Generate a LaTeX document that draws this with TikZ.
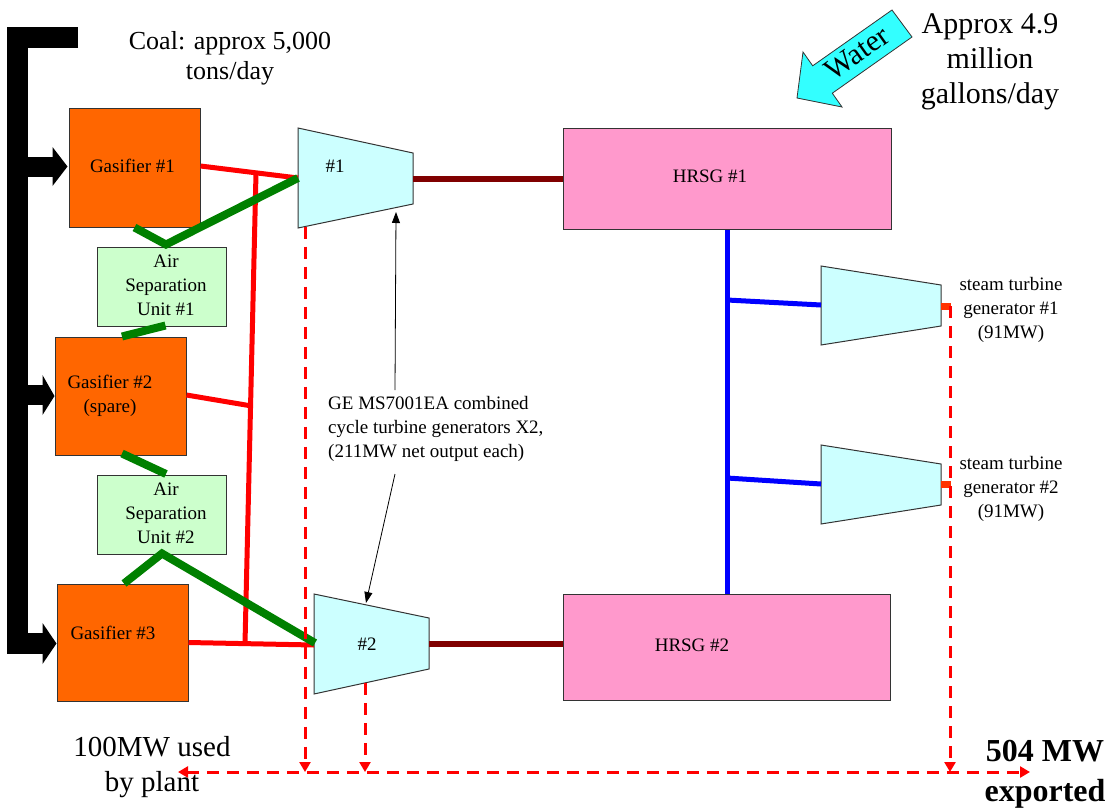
\documentclass[tikz,border=0pt]{standalone}
\usepackage{fontspec}
\setmainfont{Liberation Serif}
\usetikzlibrary{arrows.meta,calc}
\definecolor{gasorange}{HTML}{FF6600}
\definecolor{asugreen}{HTML}{CCFFCC}
\definecolor{turbcyan}{HTML}{CCFFFF}
\definecolor{hrsgpink}{HTML}{FF99CC}
\definecolor{shaftbrown}{HTML}{800000}
\definecolor{pipegreen}{HTML}{008000}
\definecolor{watercyan}{HTML}{33FFFF}
\definecolor{stuborange}{HTML}{FF3300}
\definecolor{edgegray}{HTML}{333333}
\begin{document}
\begin{tikzpicture}[x=1pt,y=-1pt,
  box/.style={draw=edgegray, line width=1pt, inner sep=0pt},
  gasbox/.style={box, fill=gasorange},
  asubox/.style={box, fill=asugreen, align=center, font=\fontsize{19}{24}\selectfont},
  hrsgbox/.style={box, fill=hrsgpink},
  turb/.style={draw=edgegray, line width=1pt, fill=turbcyan, line join=miter},
  lbl/.style={inner sep=0pt, align=center, font=\fontsize{19}{24}\selectfont},
  biglbl/.style={inner sep=0pt, align=center, font=\fontsize{29}{35}\selectfont},
  redpipe/.style={draw=red, line width=5pt},
  greenpipe/.style={draw=pipegreen, line width=8pt},
  brownshaft/.style={draw=shaftbrown, line width=6pt},
  bluepipe/.style={draw=blue, line width=5pt},
  stubline/.style={draw=stuborange, line width=7pt},
  pwr/.style={draw=red, line width=3pt, dash pattern=on 12pt off 8pt},
  pwrtip/.style={-{Triangle[length=10pt,width=11pt]}},
  feed/.style={black, line width=21pt},
  note/.style={draw=black, line width=0.8pt, -{Triangle[length=11pt,width=8pt]}}
]
\useasboundingbox (0,0) rectangle (1112,809);

% ---------- boxes ----------
\node[gasbox, minimum width=131pt, minimum height=119pt] (g1) at (134.5,167.5) {};
\node[asubox, minimum width=129pt, minimum height=79pt] (asu1) at (161.5,286.5) {};
\node[gasbox, minimum width=131pt, minimum height=118pt] (g2) at (120.5,396) {};
\node[asubox, minimum width=129pt, minimum height=79pt] (asu2) at (161.5,514.5) {};
\node[gasbox, minimum width=131pt, minimum height=117pt] (g3) at (122.5,642.5) {};
\node[hrsgbox, minimum width=328pt, minimum height=101pt] (hrsg1) at (727,178.5) {};
\node[hrsgbox, minimum width=327pt, minimum height=106pt] (hrsg2) at (726.5,647) {};

% ---------- turbines ----------
\coordinate (t1a) at (298,128); \coordinate (t1b) at (413,153);
\coordinate (t1c) at (413,204); \coordinate (t1d) at (298,228);
\coordinate (t2a) at (314,594); \coordinate (t2b) at (429,618);
\coordinate (t2c) at (429,669); \coordinate (t2d) at (314,694);
\coordinate (s1a) at (821,266); \coordinate (s1b) at (941,285);
\coordinate (s1c) at (941,326); \coordinate (s1d) at (821,345);
\coordinate (s2a) at (821,445); \coordinate (s2b) at (941,464);
\coordinate (s2c) at (941,505); \coordinate (s2d) at (821,524);
\draw[turb] (t1a) -- (t1b) -- (t1c) -- (t1d) -- cycle;
\draw[turb] (t2a) -- (t2b) -- (t2c) -- (t2d) -- cycle;
\draw[turb] (s1a) -- (s1b) -- (s1c) -- (s1d) -- cycle;
\draw[turb] (s2a) -- (s2b) -- (s2c) -- (s2d) -- cycle;
\coordinate (t1in) at (298,178); \coordinate (t1out) at (413,179);
\coordinate (t2in) at (314,645); \coordinate (t2out) at (429,644);
\coordinate (st1in) at (821,305); \coordinate (st1out) at (941,306);
\coordinate (st2in) at (821,484); \coordinate (st2out) at (941,484);

% ---------- coal feed ----------
\draw[feed, line join=miter] (78,37.5) -- (17.5,37.5) -- (17.5,643.5) -- ($(g3.west)+(-13,1)$);
\draw[feed, line width=20pt] (17.5,167) -- ($(g1.west)+(-15,-0.5)$);
\draw[feed, line width=20pt] (17.5,395) -- ($(g2.west)+(-12,-1)$);
\fill[black] ($(g1.west)+(-16,-20.5)$) -- ($(g1.west)+(-1,-1)$) -- ($(g1.west)+(-16,18.5)$) -- cycle;
\fill[black] ($(g2.west)+(-12,-21)$) -- (g2.west) -- ($(g2.west)+(-12,19)$) -- cycle;
\fill[black] ($(g3.west)+(-14,-19.5)$) -- ($(g3.west)+(0,1)$) -- ($(g3.west)+(-14,21.5)$) -- cycle;

% ---------- red syngas lines ----------
\coordinate (rj1) at (256,173);
\coordinate (rj3) at (245,643.6);
\coordinate (rj2) at ($(rj1)!0.4947!(rj3)$);
\draw[redpipe] ($(g1.east)+(0,-1.5)$) -- (t1in);
\draw[redpipe] (rj1) -- (rj3);
\draw[redpipe] ($(g2.east)+(0,-1)$) -- (rj2);
\draw[redpipe] (g3.east) -- (t2in);

% ---------- green oxygen lines ----------
\draw[greenpipe] (g1.south) -- ($(asu1.north)+(4.5,-2)$) -- (t1in);
\draw[greenpipe] ($(asu1.south)+(4,-1)$) -- ($(g2.north)+(1.5,0)$);
\draw[greenpipe] ($(g2.south)+(1.5,-2)$) -- ($(asu2.north)+(4.5,-0.5)$);
\draw[greenpipe] ($(g3.north)+(1.5,0)$) -- ($(asu2.south)+(0.5,-1)$) -- ($(t2in)+(1,-2)$);

% ---------- shafts / steam ----------
\draw[brownshaft] (t1out) -- (t1out -| hrsg1.west);
\draw[brownshaft] (t2out) -- (t2out -| hrsg2.west);
\coordinate (b1) at (727,300);
\coordinate (b2) at (727,478);
\draw[bluepipe] (hrsg1.south) -- (hrsg1.south |- hrsg2.north);
\draw[bluepipe] (b1) -- (st1in);
\draw[bluepipe] (b2) -- (st2in);
\draw[stubline] (st1out) -- ++(10,0);
\draw[stubline] (st2out) -- ++(10,0);

% ---------- electrical output ----------
\coordinate (busL) at (178,772);
\coordinate (busR) at (1030,772);
\coordinate (p1) at (305,226.5);
\coordinate (p2) at (365,683);
\coordinate (p3) at (950,306);
\draw[pwr, {Triangle[length=10pt,width=11pt]}-{Triangle[length=10pt,width=11pt]}] (busL) -- (busR);
\draw[pwr, pwrtip] (p1) -- (p1 |- busL);
\draw[pwr, pwrtip] (p2) -- (p2 |- busL);
\draw[pwr, pwrtip] (p3) -- (p3 |- busL);

% ---------- water arrow ----------
\draw[draw=edgegray, line width=0.8pt, fill=watercyan]
  (892,10) -- (912,37) -- (832.3,93.2) -- (842,107) -- (797,98) -- (803,52) -- (812.7,65.8) -- cycle;
\node[inner sep=0pt, rotate=35.5, font=\fontsize{30}{32}\selectfont] (water) at (857,53) {Water};

% ---------- labels ----------
\node[lbl] (g1t) at (132.5,166) {Gasifier \#1};
\node[lbl] (g2t) at (110,396) {Gasifier \#2\\(spare)};
\node[lbl] (g3t) at (113,633) {Gasifier \#3};
\node[lbl] (a1t) at (166,285) {Air\\Separation\\Unit \#1};
\node[lbl] (a2t) at (166,513) {Air\\Separation\\Unit \#2};
\node[lbl] (h1t) at (710,176) {HRSG \#1};
\node[lbl] (h2t) at (692,645) {HRSG \#2};
\node[lbl] (t1t) at (335,166) {\#1};
\node[lbl] (t2t) at (367,644) {\#2};
\node[lbl] (s1t) at (1011,310) {steam turbine\\generator \#1\\(91MW)};
\node[lbl] (s2t) at (1011,489) {steam turbine\\generator \#2\\(91MW)};
\node[lbl, align=left, anchor=west] (ge) at (328,429) {GE MS7001EA combined\\cycle turbine generators X2,\\(211MW net output each)};
\node[inner sep=0pt, align=center, font=\fontsize{26}{30}\selectfont] (coal) at (230,58) {Coal: approx 5,000\\tons/day};
\node[inner sep=0pt, align=center, font=\fontsize{30}{35}\selectfont] (wtr) at (990,62) {Approx 4.9\\million\\gallons/day};
\node[biglbl] (used) at (152,767) {100MW used\\by plant};
\node[inner sep=0pt, align=center, font=\bfseries\fontsize{32}{40}\selectfont] (exp) at (1045,774) {504 MW\\exported};

% ---------- annotation arrows ----------
\coordinate (geup) at (395,390);
\coordinate (gedn) at (395,474);
\draw[note] (geup) -- (396,212);
\draw[note] (gedn) -- (366,603);
\end{tikzpicture}
\end{document}
